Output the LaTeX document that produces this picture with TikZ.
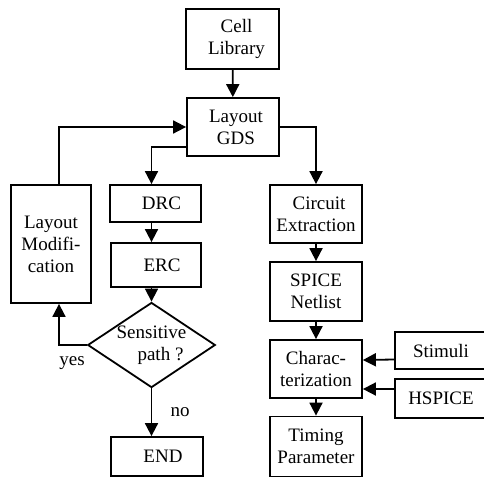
\documentclass[tikz,border=0pt]{standalone}
\usepackage{fontspec}
\setmainfont{Liberation Serif}
\usetikzlibrary{shapes.geometric,arrows.meta,positioning,calc}
\tikzstyle{box} = [rectangle, draw, line width=1.8pt, inner sep=0pt, align=center, font=\fontsize{19}{22}\selectfont]
\tikzstyle{decision} = [diamond, draw, line width=1.8pt, inner sep=0pt, aspect=1.5, align=center, font=\fontsize{19}{22}\selectfont]
\tikzstyle{lbl} = [inner sep=0pt, font=\fontsize{19}{22}\selectfont]
\tikzstyle{arrow} = [-{Triangle[length=13pt,width=13pt]}, line width=1.8pt]

\begin{document}
\begin{tikzpicture}[x=1pt, y=-1pt]
    \clip (0,0) rectangle (484,477);
    % Top
    \node[box, minimum width=93pt, minimum height=60pt] (cell) at (232.5,39) {\hspace*{8pt}Cell\\\hspace*{8pt}Library};
    \node[box, minimum width=92pt, minimum height=58pt] (gds) at (233,127) {\hspace*{6pt}Layout\\\hspace*{6pt}GDS};

    % Check path
    \node[box, minimum width=80pt, minimum height=118pt] (mod) at (51,244) {Layout\\Modifi-\\cation};
    \node[box, minimum width=91pt, minimum height=37pt] (drc) at (155.5,203.5) {\hspace*{12pt}DRC};
    \node[box, minimum width=90pt, minimum height=44pt] (erc) at (156,265) {\hspace*{12pt}ERC};
    \node[decision] (sens) at (151.5,345) {Sensitive\\\hspace*{18pt}path ?};
    \node[box, minimum width=92pt, minimum height=39pt] (end) at (157,456.5) {\hspace*{12pt}END};
    \node[lbl] (yes) at (72,363) {yes};
    \node[lbl] (no) at (180,412) {no};

    % Characterization path
    \node[box, minimum width=92pt, minimum height=58pt] (ext) at (316,214) {\hspace*{6pt}Circuit\\Extraction};
    \node[box, minimum width=92pt, minimum height=59pt] (net) at (316,291.5) {SPICE\\Netlist};
    \node[box, minimum width=92pt, minimum height=58pt] (char) at (316,369) {Charac-\\terization};
    \node[box, minimum width=92pt, minimum height=60pt] (tim) at (316,446.5) {Timing\\Parameter};
    \node[box, minimum width=100pt, minimum height=37pt] (stim) at (445,350.5) {\hspace*{-8pt}Stimuli};
    \node[box, minimum width=100pt, minimum height=39pt] (hsp) at (445,398.5) {\hspace*{-8pt}HSPICE};

    % Arrows
    \draw[arrow] (cell) -- (gds);
    \draw[arrow] ([yshift=10pt]gds.south west) -| (drc.north -| sens);
    \draw[arrow] (gds.east) -| (ext);
    \draw[arrow] ([xshift=8pt]mod.north) |- (gds.west);
    \draw[arrow] (drc.south -| sens) -- (erc.north -| sens);
    \draw[arrow] (erc.south -| sens) -- (sens);
    \draw[arrow] (sens.west) -| ([xshift=8pt]mod.south);
    \draw[arrow] (sens.south) -- (sens.south |- end.north);
    \draw[arrow] (ext) -- (net);
    \draw[arrow] (net) -- (char);
    \draw[arrow] (char) -- (tim);
    \draw[arrow] ([yshift=-9pt]stim.west) -- ([yshift=9pt]char.east);
    \draw[arrow] ([yshift=9.5pt]hsp.west) -- ([yshift=-20pt]char.east);
\end{tikzpicture}
\end{document}
